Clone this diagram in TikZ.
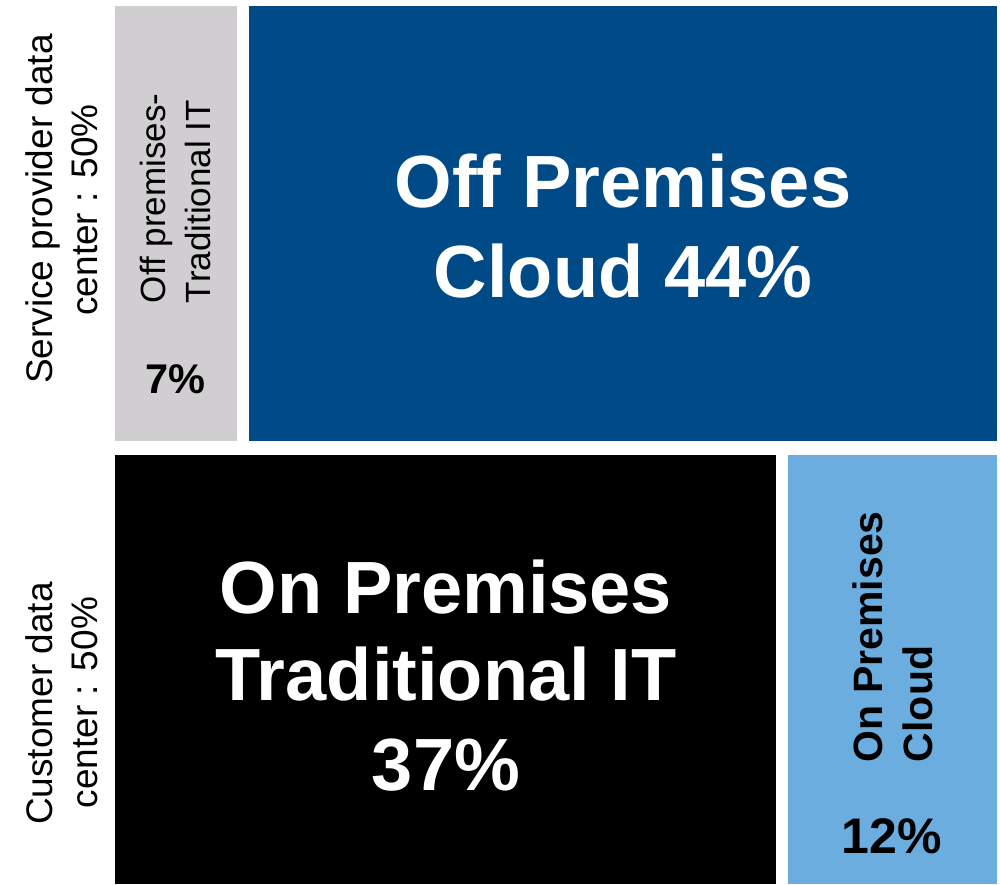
\documentclass[tikz,border=0pt]{standalone}
\usepackage{fontspec}
\setmainfont{Liberation Sans}
\definecolor{greybox}{RGB}{208,206,208}
\definecolor{darkblue}{RGB}{0,75,135}
\definecolor{lightblue}{RGB}{108,173,223}
\tikzset{
  block/.style={draw=none},
  txt/.style={inner sep=0pt, outer sep=0pt, anchor=base},
  rtxt/.style={inner sep=0pt, outer sep=0pt, rotate=90},
  bigw/.style={txt, text=white, font=\bfseries\fontsize{74}{88}\selectfont},
  side/.style={rtxt, anchor=base, text=black, font=\fontsize{37}{44}\selectfont},
}
\begin{document}
\begin{tikzpicture}[x=1pt,y=-1pt]
\useasboundingbox (0,0) rectangle (1000,884);
% blocks
\fill[greybox]   (115,6)   rectangle (237,441);
\fill[darkblue]  (249,6)   rectangle (997,441);
\fill[black]     (115,455) rectangle (776,884);
\fill[lightblue] (788,455) rectangle (997,884);
% side labels
\node[side] (sp1) at (52,209) {Service provider data};
\node[side] (sp2) at (97,210) {center : 50\%};
\node[side] (cd1) at (52,703.5) {Customer data};
\node[side] (cd2) at (97,702.5) {center : 50\%};
% off premises traditional
\node[rtxt, anchor=base west, font=\fontsize{35}{42}\selectfont] (opt1) at (165,303) {Off premises-};
\node[rtxt, anchor=base west, font=\fontsize{35}{42}\selectfont] (opt2) at (210,303) {Traditional IT};
\node[txt, font=\bfseries\fontsize{41.5}{50}\selectfont] (p7) at (175,393) {7\%};
% off premises cloud
\node[bigw] (opc1) at (623,207) {Off Premises};
\node[bigw] (opc2) at (623,297) {Cloud 44\%};
% on premises traditional
\node[bigw] (ont1) at (446,613) {On Premises};
\node[bigw] (ont2) at (446,700) {Traditional IT};
\node[bigw] (ont3) at (446,790) {37\%};
% on premises cloud
\node[rtxt, anchor=base west, font=\bfseries\fontsize{41}{50}\selectfont] (onc1) at (882,762) {On Premises};
\node[rtxt, anchor=base west, font=\bfseries\fontsize{41}{50}\selectfont] (onc2) at (932,762) {Cloud};
\node[txt, font=\bfseries\fontsize{50}{60}\selectfont] (p12) at (892,853) {12\%};
\end{tikzpicture}
\end{document}
